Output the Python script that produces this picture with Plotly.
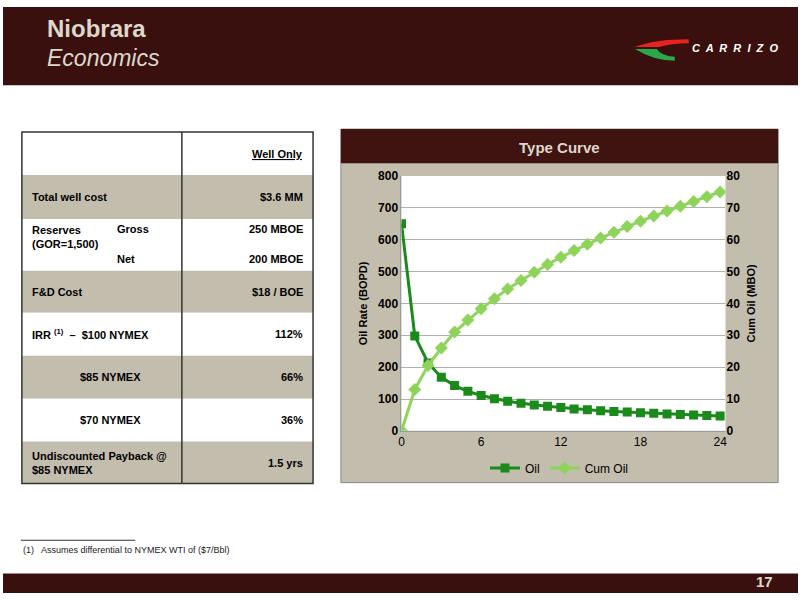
import plotly.graph_objects as go

months = list(range(25))
oil = [650, 298, 213, 168, 142, 124, 111, 101, 93, 87, 81, 77, 73, 69, 66, 63, 61, 59, 57, 55, 53, 51, 50, 48, 47]
cum_oil = [0, 13, 20.5, 26, 31, 34.8, 38.3, 41.5, 44.5, 47.2, 49.8, 52.2, 54.5, 56.6, 58.6, 60.5, 62.3, 64.1, 65.8, 67.4, 69, 70.5, 72, 73.5, 75]

row_labels = ["Total well cost", "Reserves<br>(GOR=1,500)", "F&D Cost",
              "IRR <sup>(1)</sup>  –  $100 NYMEX", "$85 NYMEX", "$70 NYMEX",
              "Undiscounted Payback @<br>$85 NYMEX"]
row_values = ["$3.6 MM", "250 MBOE", "$18 / BOE", "112%", "66%", "36%", "1.5 yrs"]
row_bounds = [172, 217, 270, 313, 357, 401, 445, 488]

W, H = 800, 600
def px(x): return x / W
def py(y): return 1 - y / H

BG = "#3a100e"
TAN = "#c3bdad"
shapes, ann = [], []
def rect(x0, y0, x1, y1, fill, line=None, lw=0):
    shapes.append(dict(type="rect", xref="paper", yref="paper", x0=px(x0), x1=px(x1),
                       y0=py(y1), y1=py(y0), fillcolor=fill, layer="below",
                       line=dict(color=line or fill, width=lw)))
def text(x, y, t, size=11, color="#000", xa="left", bold=True, family="Arial", italic=False, ya="middle"):
    if bold: t = f"<b>{t}</b>"
    if italic: t = f"<i>{t}</i>"
    ann.append(dict(x=px(x), y=py(y), xref="paper", yref="paper", text=t, showarrow=False,
                    xanchor=xa, yanchor=ya, align=xa, font=dict(size=size, color=color, family=family)))

rect(0, 0, 800, 80, BG)
rect(0, 580, 800, 600, BG)
text(42, 22, "Niobrara", 24, "#ddd8cc")
text(42, 52, "Economics", 23, "#ddd8cc", bold=False, italic=True)
text(737, 42, "C  A  R  R  I  Z  O", 11, "#ffffff", xa="center", italic=True)
shapes.append(dict(type="path", xref="paper", yref="paper",
                   path=f"M {px(690)},{py(33)} Q {px(655)},{py(33)} {px(636)},{py(41)} L {px(660)},{py(41)} Q {px(672)},{py(37)} {px(690)},{py(37)} Z",
                   fillcolor="#e8231e", line=dict(width=0)))
shapes.append(dict(type="path", xref="paper", yref="paper",
                   path=f"M {px(636)},{py(43)} Q {px(655)},{py(55)} {px(676)},{py(55)} L {px(676)},{py(51)} Q {px(662)},{py(50)} {px(658)},{py(43)} Z",
                   fillcolor="#2aa84a", line=dict(width=0)))
text(777, 588, "17", 15, "#ddd8cc", xa="right")

# table
for i in range(7):
    fill = TAN if i % 2 == 0 else "#ffffff"
    rect(19, row_bounds[i], 312, row_bounds[i + 1], fill)
    yc = (row_bounds[i] + row_bounds[i + 1]) / 2
    lx = 75 if i in (4, 5) else 27
    if i == 1:
        text(27, 236, row_labels[i], 11)
        text(113, 227, "Gross", 11)
        text(113, 258, "Net", 11)
        text(304, 227, "250 MBOE", 11, xa="right")
        text(304, 258, "200 MBOE", 11, xa="right")
    else:
        text(lx, yc, row_labels[i], 11)
        text(304, yc, row_values[i], 11, xa="right")
text(304, 151, "<u>Well Only</u>", 11, xa="right")
shapes.append(dict(type="rect", xref="paper", yref="paper", x0=px(19), x1=px(312), y0=py(488), y1=py(128),
                   line=dict(color="#333", width=1.5)))
shapes.append(dict(type="line", xref="paper", yref="paper", x0=px(180), x1=px(180), y0=py(488), y1=py(128),
                   line=dict(color="#333", width=1.5)))

# footnote
shapes.append(dict(type="line", xref="paper", yref="paper", x0=px(18), x1=px(133), y0=py(546), y1=py(546),
                   line=dict(color="#333", width=1)))
text(18, 556, "(1)   Assumes differential to NYMEX WTI of ($7/Bbl)", 9, "#222", bold=False)

# chart panel
rect(340, 125, 780, 487, TAN, "#888", 1)
rect(340, 125, 780, 160, "#3f1310")
rect(401, 173, 727, 434, "#ffffff")
text(560, 144, "Type Curve", 15, "#ddd8cc", xa="center")

fig = go.Figure()
fig.add_trace(go.Scatter(x=months, y=oil, name="Oil", mode="lines+markers",
                         line=dict(color="#1a8a1a", width=3), marker=dict(symbol="square", size=9, color="#1a8a1a")))
fig.add_trace(go.Scatter(x=months, y=cum_oil, name="Cum Oil", yaxis="y2", mode="lines+markers",
                         line=dict(color="#8fd45a", width=3), marker=dict(symbol="diamond", size=10, color="#8fd45a")))
fig.update_layout(
    width=W, height=H, margin=dict(l=0, r=0, t=0, b=0), paper_bgcolor="#ffffff", plot_bgcolor="#ffffff",
    shapes=shapes, annotations=ann, font=dict(family="Arial", color="#000"),
    xaxis=dict(domain=[px(401), px(727)], range=[0, 24.4], tickvals=[0, 6, 12, 18, 24], showgrid=False,
               zeroline=False, ticks="", tickfont=dict(size=12),
               showline=True, linecolor="#999"),
    yaxis=dict(domain=[py(434), py(173)], range=[0, 800], dtick=100, gridcolor="#b0b0b0", zeroline=False,
               title=dict(text="<b>Oil Rate (BOPD)</b>", font=dict(size=11), standoff=8), tickfont=dict(size=12),
               tickprefix="<b>", ticksuffix="</b>", showline=True, linecolor="#999"),
    yaxis2=dict(overlaying="y", side="right", range=[0, 80], dtick=10, showgrid=False, zeroline=False,
                title=dict(text="<b>Cum Oil (MBO)</b>", font=dict(size=11), standoff=8), tickfont=dict(size=12),
                tickprefix="<b>", ticksuffix="</b>"),
    legend=dict(orientation="h", x=px(560), xanchor="center", y=py(472), yanchor="middle",
                bgcolor="rgba(0,0,0,0)", font=dict(size=12)),
)
fig.update_xaxes(tickprefix="<b>", ticksuffix="</b>")
fig.write_html("out.html", config={"displayModeBar": False})
with open("out.html", encoding="utf-8") as f:
    html = f.read()
html = html.replace("<body>", '<body style="margin:0;padding:0;overflow:hidden;">', 1)
with open("out.html", "w", encoding="utf-8") as f:
    f.write(html)
